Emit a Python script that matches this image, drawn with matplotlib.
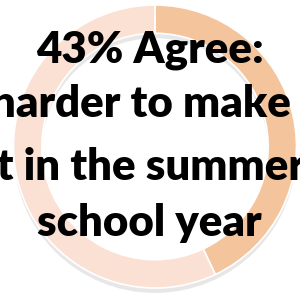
import matplotlib
matplotlib.use('Agg')
import matplotlib.pyplot as plt
from matplotlib.patches import Circle

# data
labels = ['Agree', 'Other']
shares = [43, 57]
colors = ['#F4C59D', '#FBE0D4']
title_lines = ['43% Agree:', 'harder to make', 'it in the summer', 'school year']

fig = plt.figure(figsize=(3.0, 2.96), dpi=100)
ax = fig.add_axes([0, 0, 1, 1])

# soft shadow under the ring
ax.add_patch(Circle((0.0, -0.035), 1.0, color='#bdbdbd', alpha=0.35, zorder=0, lw=0))
ax.add_patch(Circle((0.0, -0.035), 0.8, color='white', zorder=0, lw=0))

ax.pie(shares, colors=colors, startangle=90, counterclock=False,
       radius=1.0, wedgeprops=dict(width=0.2, edgecolor='white', linewidth=1.2))

# big overlaid caption
px = 141.5
baselines = [63, 117, 180, 236]
xcenters = [150, 141, 145, 149]
for line, yb, xc in zip(title_lines, baselines, xcenters):
    ax.text((xc - 155) / px, (146.5 - yb) / px, line, ha='center', va='baseline',
            fontsize=31.5, fontweight='heavy', family=['Lato', 'DejaVu Sans'], color='black')

ax.set_xlim(-155 / px, 145 / px)
ax.set_ylim(-(296 - 146.5) / px, 146.5 / px)
ax.set_aspect('auto')
ax.axis('off')

plt.savefig('out.png', dpi=100)
plt.close()
